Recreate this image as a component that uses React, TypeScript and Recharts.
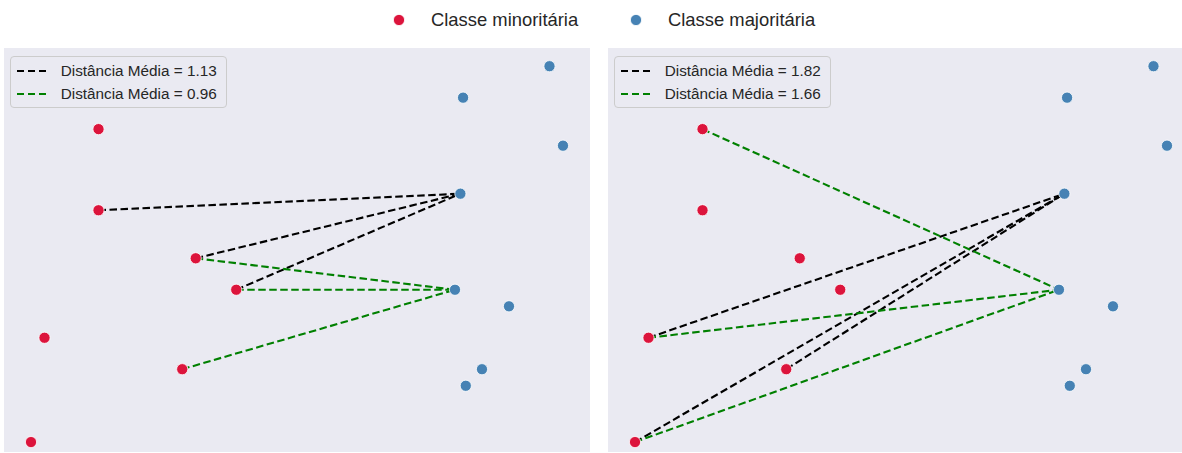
import React from 'react';
import { ScatterChart, Scatter, XAxis, YAxis } from 'recharts';

// Minority class samples (red)
const minorityX = [-0.75, -0.75, -0.39, -0.24, -0.95, -0.44, -1.0];
const minorityY = [0.79, 0.3, 0.01, -0.18, -0.47, -0.66, -1.1];

// Majority class samples (blue)
const majorityX = [0.92, 0.6, 0.97, 0.59, 0.57, 0.77, 0.67, 0.61];
const majorityY = [1.17, 0.98, 0.69, 0.4, -0.18, -0.28, -0.66, -0.76];

// Links as [minority index, majority index]
const leftBlackLinks = [[1, 3], [2, 3], [3, 3]];
const leftGreenLinks = [[2, 4], [3, 4], [5, 4]];
const rightBlackLinks = [[4, 3], [6, 3], [5, 3]];
const rightGreenLinks = [[0, 4], [4, 4], [6, 4]];

// Mean distances shown in each panel legend: [black, green]
const leftMeans = [1.13, 0.96];
const rightMeans = [1.82, 1.66];

const classLabels = ['Classe minoritária', 'Classe majoritária'];

const RED = '#DC143C';
const BLUE = '#4682B4';
const BLACK = '#000000';
const GREEN = '#008000';
const PANEL_BG = '#EAEAF2';
const TEXT = '#262626';
const FONT = '"Liberation Sans", Arial, sans-serif';

const X_DOMAIN: [number, number] = [-1.1, 1.07];
const Y_DOMAIN: [number, number] = [-1.16, 1.28];
const PANEL_W = 586;
const PANEL_H = 404;

const minority = minorityX.map((x, i) => ({ x, y: minorityY[i] }));
const majority = majorityX.map((x, i) => ({ x, y: majorityY[i] }));

const dot = (color: string) => (props: any) => (
  <circle cx={props.cx} cy={props.cy} r={5.6} fill={color} stroke="#ffffff" strokeWidth={0.8} />
);

const noShape = () => <g />;

function linkSeries(links: number[][], color: string, key: string) {
  return links.map(([a, b], i) => (
    <Scatter
      key={`${key}-${i}`}
      data={[minority[a], majority[b]]}
      fill={color}
      shape={noShape}
      line={{ stroke: color, strokeWidth: 2.1, strokeDasharray: '7.5 3.5' }}
      isAnimationActive={false}
    />
  ));
}

function PanelLegend({ means }: { means: number[] }) {
  const rows = [
    { color: BLACK, value: means[0] },
    { color: GREEN, value: means[1] },
  ];
  return (
    <div
      style={{
        position: 'absolute',
        left: 6,
        top: 8,
        padding: '2px 9px 2px 6px',
        border: '1px solid #CCCCCC',
        borderRadius: 4,
        background: PANEL_BG,
        fontFamily: FONT,
        fontSize: 15.3,
        color: TEXT,
      }}
    >
      {rows.map((r, i) => (
        <div key={i} style={{ display: 'flex', alignItems: 'center', height: 23 }}>
          <svg width={30} height={4} style={{ marginRight: 14 }}>
            <line x1={0} y1={2} x2={30} y2={2} stroke={r.color} strokeWidth={2} strokeDasharray="7 4" />
          </svg>
          <span>{`Distância Média = ${r.value.toFixed(2)}`}</span>
        </div>
      ))}
    </div>
  );
}

function Panel({ left, blackLinks, greenLinks, means }: any) {
  return (
    <div
      style={{
        position: 'absolute',
        left,
        top: 48,
        width: PANEL_W,
        height: PANEL_H,
        background: PANEL_BG,
      }}
    >
      <ScatterChart width={PANEL_W} height={PANEL_H} margin={{ top: 0, right: 0, bottom: 0, left: 0 }}>
        <XAxis type="number" dataKey="x" domain={X_DOMAIN} allowDataOverflow hide />
        <YAxis type="number" dataKey="y" domain={Y_DOMAIN} allowDataOverflow hide />
        {linkSeries(blackLinks, BLACK, 'black')}
        {linkSeries(greenLinks, GREEN, 'green')}
        <Scatter data={minority} fill={RED} shape={dot(RED)} isAnimationActive={false} />
        <Scatter data={majority} fill={BLUE} shape={dot(BLUE)} isAnimationActive={false} />
      </ScatterChart>
      <PanelLegend means={means} />
    </div>
  );
}

function TopLegend() {
  const items = [
    { color: RED, label: classLabels[0], dotX: 399, textX: 431 },
    { color: BLUE, label: classLabels[1], dotX: 636, textX: 668 },
  ];
  return (
    <>
      {items.map((it, i) => (
        <React.Fragment key={i}>
          <svg style={{ position: 'absolute', left: it.dotX - 7, top: 13 }} width={14} height={14}>
            <circle cx={7} cy={7} r={5.6} fill={it.color} stroke="#ffffff" strokeWidth={0.8} />
          </svg>
          <div
            style={{
              position: 'absolute',
              left: it.textX,
              top: 9,
              fontFamily: FONT,
              fontSize: 18.4,
              lineHeight: '22px',
              color: TEXT,
              whiteSpace: 'nowrap',
            }}
          >
            {it.label}
          </div>
        </React.Fragment>
      ))}
    </>
  );
}

export default function App() {
  return (
    <div
      style={{
        position: 'absolute',
        left: 0,
        top: 0,
        width: 1182,
        height: 453,
        overflow: 'hidden',
        background: '#ffffff',
      }}
    >
      <TopLegend />
      <Panel left={3.7} blackLinks={leftBlackLinks} greenLinks={leftGreenLinks} means={leftMeans} />
      <Panel left={607.7} blackLinks={rightBlackLinks} greenLinks={rightGreenLinks} means={rightMeans} />
    </div>
  );
}
